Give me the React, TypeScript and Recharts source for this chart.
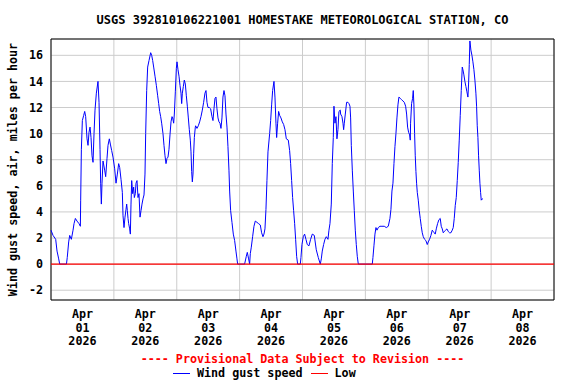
import { LineChart, Line, XAxis, YAxis, CartesianGrid, ReferenceLine, ReferenceArea } from 'recharts'

// hours since Apr 01 00:00 and gust speed (mph)
const HOURS = [
  0, 0.78, 1.79, 2.3, 2.94, 3.32, 5.9, 6.2, 6.75, 7.14, 7.77, 8.41, 8.79, 9.3, 9.93, 10.7, 11.21, 11.33, 11.59, 11.97,
  12.48, 12.86, 13.24, 13.75, 14.13, 14.51, 14.9, 15.28, 15.66, 16.04, 16.42, 16.8, 17.31, 17.94, 18.33, 18.71, 18.96, 19.22, 19.47, 19.86,
  20.49, 20.87, 21.38, 21.76, 22.27, 22.65, 23.16, 23.67, 24.31, 24.82, 25.33, 25.83, 26.22, 26.72, 27.23, 27.49, 27.87,
  28.25, 28.63, 28.89, 29.14, 29.4, 29.65, 30.03, 30.29, 30.54, 30.8, 31.18, 31.56, 31.81, 32.2, 32.45, 32.83, 33.21, 33.59, 33.98,
  34.36, 34.74, 35.12, 35.5, 35.88, 36.14, 36.52, 36.9, 37.41, 38.05, 38.43, 38.81, 39.19, 39.7, 40.21, 40.72, 41.1, 41.48, 41.86,
  42.24, 42.75, 43.13, 43.52, 43.9, 44.28, 44.66, 45.04, 45.42, 45.81, 46.19, 46.44, 46.82, 47.08, 47.46, 47.84, 48.1, 48.48, 48.86,
  49.24, 49.62, 49.88, 50.13, 50.51, 50.89, 51.28, 51.66, 52.04, 52.42, 52.8, 53.18, 53.44, 53.69, 53.95, 54.2, 54.46, 54.71, 55.09,
  55.21, 55.72, 56.23, 56.74, 57.25, 57.76, 58.27, 58.77, 59.16, 59.54, 59.92, 60.43, 60.94, 61.45, 61.83, 62.21, 62.59, 62.97, 63.35,
  63.74, 64.12, 64.5, 64.88, 65.26, 65.64, 66.03, 66.41, 66.79, 67.17, 67.55, 67.93, 68.19, 68.57, 69.08, 69.59, 70.1, 70.6, 70.99,
  71.24, 73.9, 74.55, 74.93, 75.44, 75.82, 76.07, 76.46, 76.96, 77.47, 77.98, 78.62, 79.25, 79.89, 80.4, 80.91, 81.29, 81.67, 82.05,
  82.43, 82.82, 83.46, 83.84, 84.22, 84.6, 85.11, 85.49, 85.87, 86.13, 86.51, 86.89, 87.27, 87.78, 88.29, 88.8, 89.31, 89.82, 90.58,
  91.09, 91.47, 91.85, 92.23, 92.61, 93.0, 93.38, 93.76, 94.14, 95.16, 95.41, 95.79, 96.3, 96.81, 97.32, 97.83, 98.47, 99.1, 99.74,
  100.5, 101.26, 102.03, 102.79, 103.17, 103.55, 104.06, 104.57, 105.08, 105.72, 106.1, 106.48, 106.99, 107.37, 107.75, 108.01, 108.39, 108.77, 109.15,
  109.53, 109.91, 110.42, 110.55, 111.06, 111.45, 111.7, 111.95, 112.34, 112.84, 113.35, 113.73, 114.12, 114.37, 114.63, 115.01, 115.39, 115.77, 116.15,
  116.53, 116.91, 117.3, 122.64, 122.89, 123.27, 123.66, 124.04, 124.42, 124.93, 125.56, 126.33, 127.22, 127.98, 128.74, 129.38, 129.76, 130.14, 130.53,
  130.91, 131.29, 131.67, 132.05, 132.43, 132.81, 133.32, 133.83, 134.34, 134.85, 135.36, 135.74, 136.12, 136.5, 136.89, 137.14, 137.26, 137.64, 138.02,
  138.28, 138.53, 138.79, 139.04, 139.3, 139.55, 139.81, 140.19, 140.57, 140.95, 141.33, 141.71, 142.1, 142.6, 143.11, 143.62, 144.0, 144.51, 145.02,
  145.53, 145.91, 146.29, 146.67, 147.06, 147.56, 148.07, 148.58, 148.96, 149.35, 149.73, 150.11, 150.62, 151.13, 151.64, 152.14, 152.65, 153.16, 153.54,
  153.92, 154.31, 154.69, 155.07, 155.45, 155.83, 156.21, 156.6, 156.98, 157.23, 157.61, 157.99, 158.38, 158.76, 159.14, 159.39, 159.65, 159.9, 160.28,
  160.67, 161.05, 161.43, 161.81, 162.19, 162.45, 162.7, 162.96, 163.21, 163.47, 163.72, 163.98, 164.23, 164.61, 164.87,
]
const GUST = [
  2.6, 2.2, 1.9, 1.0, 0.4, 0, 0, 0.5, 1.7, 2.2, 1.9, 2.6, 3.1, 3.5, 3.3, 3.1, 2.9, 4.9, 8.8, 11.0,
  11.4, 11.7, 11.3, 9.6, 9.1, 10.1, 10.5, 9.7, 8.3, 7.8, 10.0, 11.8, 13.1, 14.0, 12.4, 8.8, 6.2, 4.6, 6.2, 7.9,
  7.2, 6.7, 8.1, 9.1, 9.6, 9.2, 8.7, 8.2, 7.3, 6.2, 6.9, 7.7, 7.4, 6.5, 5.5, 3.7, 2.8,
  3.6, 4.2, 4.6, 4.1, 3.5, 3.1, 2.7, 2.3, 4.6, 6.4, 5.4, 5.9, 5.1, 5.4, 6.2, 6.4, 5.1, 5.4, 3.6,
  4.1, 4.6, 5.0, 5.3, 6.9, 10.0, 13.3, 15.1, 15.6, 16.2, 16.0, 15.6, 15.1, 14.4, 13.7, 12.9, 12.3, 11.7, 11.3,
  10.8, 10.0, 9.1, 8.3, 7.7, 8.1, 8.2, 8.8, 9.9, 10.9, 11.3, 11.2, 10.8, 11.5, 13.2, 15.0, 15.5, 14.9, 14.4,
  13.7, 13.1, 12.3, 13.1, 13.6, 14.1, 13.8, 12.9, 12.1, 11.2, 10.3, 9.5, 8.6, 7.1, 6.3, 6.9, 8.5, 9.7, 10.5,
  10.6, 10.4, 10.6, 10.9, 11.3, 11.8, 12.4, 13.1, 13.3, 12.4, 12.0, 12.0, 11.9, 11.3, 11.0, 11.9, 12.7, 12.8, 11.9,
  11.2, 10.9, 10.8, 10.4, 11.2, 12.8, 13.3, 12.9, 11.5, 10.5, 9.0, 7.2, 5.6, 4.1, 3.2, 2.3, 1.8, 1.0, 0.4,
  0, 0, 0.6, 0.9, 0.4, 0, 0.8, 1.3, 2.1, 2.9, 3.3, 3.2, 3.1, 3.0, 2.4, 2.1, 2.3, 2.7, 4.2,
  6.4, 8.6, 10.0, 11.0, 12.2, 13.3, 14.0, 12.8, 10.8, 9.7, 10.8, 11.7, 11.4, 11.2, 10.9, 10.7, 10.3, 9.6, 9.5,
  8.7, 7.7, 6.4, 5.1, 4.1, 3.1, 1.9, 0.6, 0, 0, 0.5, 1.5, 2.1, 2.3, 1.9, 1.5, 1.4, 1.9, 2.3,
  2.2, 1.1, 0.5, 0, 0.4, 1.0, 1.5, 1.9, 2.1, 1.9, 2.6, 3.1, 4.6, 7.7, 9.7, 12.1, 10.8, 11.3, 9.6,
  10.3, 11.7, 11.8, 11.5, 11.3, 10.8, 10.3, 10.8, 11.5, 12.4, 12.4, 12.3, 12.1, 11.2, 9.1, 7.2, 5.6, 4.1, 2.6,
  1.5, 0.6, 0, 0, 0.5, 1.4, 2.3, 2.8, 2.6, 2.8, 2.9, 2.9, 2.9, 2.8, 2.9, 3.5, 4.2, 5.6, 6.2,
  7.7, 9.0, 10.0, 11.2, 12.2, 12.8, 12.7, 12.6, 12.5, 12.4, 12.1, 11.5, 10.5, 10.1, 9.9, 9.5, 10.8, 12.3, 12.7,
  13.3, 12.2, 10.0, 8.3, 7.1, 6.2, 5.5, 4.9, 4.1, 3.5, 2.9, 2.4, 2.1, 1.9, 1.8, 1.5, 1.7, 1.9, 2.2,
  2.6, 2.5, 2.4, 2.3, 2.7, 3.1, 3.4, 3.5, 2.9, 2.7, 2.4, 2.5, 2.6, 2.7, 2.5, 2.4, 2.4, 2.6, 2.8,
  3.5, 4.5, 5.1, 6.4, 7.8, 9.5, 11.4, 13.3, 15.1, 14.9, 14.5, 14.0, 13.6, 13.2, 12.8, 13.8, 15.3, 17.1, 16.4,
  16.0, 15.5, 14.9, 14.1, 13.1, 12.1, 10.6, 9.7, 8.3, 7.2, 6.2, 5.5, 4.9, 5.0, 5.0,
]

const LOW = 0
const MONTH = 'Apr'
const YEAR = '2026'
const DAYS = ['01', '02', '03', '04', '05', '06', '07', '08']
const DAY_STARTS = [0, 24, 48, 72, 96, 120, 144, 168, 192]
const LABEL_HOURS = [12, 36, 60, 84, 108, 132, 156, 180]
const Y_TICKS = [-2, 0, 2, 4, 6, 8, 10, 12, 14, 16]
const Y_DOMAIN = [-2.75, 17.25]
const X_DOMAIN = [0, 192]

const TITLE = 'USGS 392810106221001 HOMESTAKE METEOROLOGICAL STATION, CO'
const Y_LABEL = 'Wind gust speed, air, miles per hour'
const PROVISIONAL = '---- Provisional Data Subject to Revision ----'

const FONT = '"DejaVu Sans Mono", "Liberation Mono", monospace'
const BLUE = '#0000ff'
const RED = '#ff0000'
const GRID = '#cccccc'

const data = HOURS.map((h, i) => ({ h, gust: GUST[i] }))

const textStyle = { fontFamily: FONT, fontWeight: 700, fontSize: 11.7, fill: '#000' }

function DayTick({ x, y, payload }: any) {
  const i = LABEL_HOURS.indexOf(payload.value)
  return (
    <text x={x} y={y} textAnchor="middle" {...textStyle}>
      <tspan x={x} dy={10}>{MONTH}</tspan>
      <tspan x={x} dy={13.5}>{DAYS[i]}</tspan>
      <tspan x={x} dy={13.5}>{YEAR}</tspan>
    </text>
  )
}

const htmlText = { fontFamily: FONT, fontWeight: 700, whiteSpace: 'pre' as const, position: 'absolute' as const }

export default function App() {
  return (
    <div style={{ position: 'absolute', left: 0, top: 0, width: 576, height: 384, background: '#fff', overflow: 'hidden' }}>
      <div style={{ ...htmlText, left: 51, width: 503, top: 13, textAlign: 'center', fontSize: 12, lineHeight: '14px', color: '#000' }}>
        {TITLE}
      </div>
      <LineChart width={576} height={384} data={data} margin={{ top: 39, right: 22, bottom: 0, left: 0 }}>
        <CartesianGrid stroke={GRID} verticalValues={DAY_STARTS} />
        <XAxis
          dataKey="h"
          type="number"
          domain={X_DOMAIN}
          ticks={LABEL_HOURS}
          interval={0}
          height={84}
          axisLine={false}
          tickLine={false}
          tick={<DayTick />}
        />
        <YAxis
          type="number"
          domain={Y_DOMAIN}
          ticks={Y_TICKS}
          interval={0}
          width={51}
          axisLine={false}
          tickLine={false}
          tick={textStyle}
          label={{ value: Y_LABEL, angle: -90, position: 'insideLeft', offset: 13, style: { ...textStyle, textAnchor: 'middle' } }}
        />
        <ReferenceArea x1={X_DOMAIN[0]} x2={X_DOMAIN[1]} y1={Y_DOMAIN[0]} y2={Y_DOMAIN[1]} fill="none" stroke="#000" strokeWidth={1} />
        <Line type="linear" dataKey="gust" stroke={BLUE} strokeWidth={1} dot={false} activeDot={false} isAnimationActive={false} />
        <ReferenceLine y={LOW} stroke={RED} strokeWidth={1.2} />
      </LineChart>
      <div style={{ ...htmlText, left: 0, width: 576, top: 352, textAlign: 'center', fontSize: 11.7, lineHeight: '14px', color: RED, paddingLeft: 29, boxSizing: 'border-box' }}>
        {PROVISIONAL}
      </div>
      <div style={{ ...htmlText, left: 173, top: 366, display: 'flex', alignItems: 'center', fontSize: 11.7, lineHeight: '14px', color: '#000' }}>
        <span style={{ display: 'inline-block', width: 17, height: 1, background: BLUE, marginRight: 7 }} />
        <span>Wind gust speed</span>
        <span style={{ display: 'inline-block', width: 17, height: 1, background: RED, marginLeft: 8, marginRight: 7 }} />
        <span>Low</span>
      </div>
    </div>
  )
}
